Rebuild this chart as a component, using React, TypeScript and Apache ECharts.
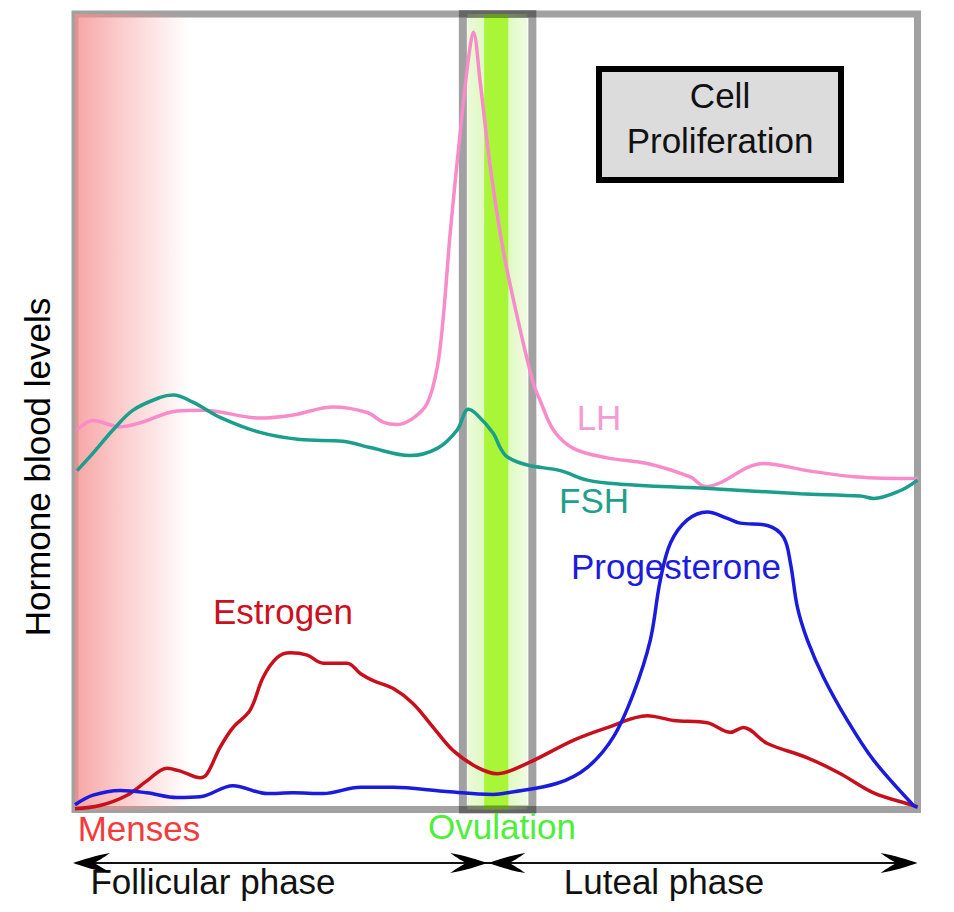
import React, { useEffect, useRef } from "react";
import * as echarts from "echarts";

// ---- data (x = day of cycle 0..28, y = relative hormone level 0..100) ----
const lhData: [number, number][] = [
  [0.07, 47.7], [0.6, 48.9], [1.5, 48.1], [2.16, 48.6], [3.39, 50.1], [4.26, 50.2],
  [6.15, 49.2], [7.25, 49.6], [8.58, 50.6], [9.71, 49.9], [10.24, 48.7], [10.71, 48.4],
  [11.24, 49.2], [11.71, 51.1], [12.04, 55.6], [12.24, 61.9], [12.47, 72.5], [12.8, 85.0],
  [13.07, 94.2], [13.24, 97.7], [13.47, 91.3], [13.8, 80.8], [14.23, 70.3], [14.7, 61.9],
  [15.23, 53.6], [15.46, 51.4], [15.9, 47.7], [16.56, 45.4], [17.69, 44.2], [19.02, 43.5],
  [20.45, 41.8], [20.95, 40.6], [22.88, 43.5], [24.34, 42.6], [26.01, 41.8], [28, 41.6],
];
const fshData: [number, number][] = [
  [0.07, 42.6], [0.6, 44.8], [1.26, 47.7], [1.93, 50.2], [2.83, 51.8], [3.26, 52.1],
  [3.92, 51.2], [4.82, 49.3], [6.15, 47.4], [7.48, 46.5], [8.91, 46.3], [9.81, 45.5],
  [11.14, 44.5], [12.04, 45.4], [12.7, 47.7], [13.07, 50.3], [13.37, 49.6], [13.9, 47.3],
  [14.13, 45.5], [14.37, 44.3], [15.03, 43.3], [16.13, 42.6], [17.03, 41.4], [18.12, 40.9],
  [20.79, 40.4], [24.11, 39.7], [26.11, 39.4], [26.54, 39.1], [27.44, 40.1], [28, 41.4],
];
const estrogenData: [number, number][] = [
  [0, 0.1], [0.83, 0.5], [1.73, 1.8], [2.39, 3.6], [3.06, 5.2], [3.59, 4.7], [4.16, 4.0],
  [4.39, 4.5], [4.82, 7.8], [5.25, 10.3], [5.82, 12.5], [6.25, 16.6], [6.72, 19.1],
  [7.15, 19.7], [7.72, 19.4], [8.25, 18.4], [9.05, 18.4], [9.48, 17.1], [9.91, 16.2],
  [10.58, 15.2], [11.24, 13.3], [11.91, 10.3], [12.57, 7.4], [13.37, 5.3], [14.03, 4.5],
  [15.03, 5.8], [16.56, 8.7], [17.69, 10.3], [19.02, 11.8], [19.89, 11.2], [21.02, 10.9],
  [21.78, 9.7], [22.21, 10.3], [23.01, 8.3], [24.34, 6.5], [25.44, 4.5], [26.54, 2.1],
  [27.87, 0.5], [28, 0.3],
];
const progesteroneData: [number, number][] = [
  [0, 0.6], [0.6, 1.8], [1.5, 2.4], [2.39, 2.1], [3.39, 1.5], [4.16, 1.6], [5.25, 3.0],
  [6.39, 2.0], [7.25, 2.1], [8.25, 2.0], [9.48, 2.8], [10.58, 2.8], [12.24, 2.3],
  [13.9, 1.9], [14.37, 2.1], [16.03, 3.3], [17.03, 5.3], [17.89, 9.1], [18.56, 14.6],
  [19.12, 21.3], [19.45, 28.8], [19.79, 33.5], [20.35, 36.4], [21.02, 37.4], [21.68, 36.6],
  [22.11, 36.0], [23.01, 35.7], [23.55, 34.2], [23.78, 30.9], [24.01, 25.4], [24.34, 21.3],
  [24.88, 16.6], [25.67, 11.2], [26.54, 6.2], [27.87, 0.5], [28, 0.3],
];

const seriesNames = ["LH", "FSH", "Estrogen", "Progesterone"];
const phaseLabels = ["Follicular phase", "Luteal phase"];
const eventLabels = ["Menses", "Ovulation"];
const yAxisTitle = "Hormone blood levels";
const boxLines = ["Cell", "Proliferation"];

// phase spans (days)
const mensesSpan = [0, 3.82];
const ovulationBoxSpan = [12.89, 15.2];
const ovulationGlowSpan = [13.04, 15.03];
const ovulationCoreSpan = [13.6, 14.4];
const cycleSpan = [0, 28];
const ovulationDay = 14;

const FONT = '"Liberation Sans", Arial, Helvetica, sans-serif';

echarts.graphic.registerShape(
  "arrowHead",
  echarts.graphic.extendPath(
    "M0,0 C-9,-3 -24,-8 -37,-10 C-30,-5 -25,-2 -21,0 C-25,2 -30,5 -37,10 C-24,8 -9,3 0,0 Z",
    {}
  ) as any
);

export default function App() {
  const ref = useRef<HTMLDivElement>(null);
  useEffect(() => {
    if (!ref.current) return;
    const chart = echarts.init(ref.current, undefined, { renderer: "svg" });

    const gLeft = 75, gTop = 14, gW = 842.5, gH = 795.5;
    const xPx = (d: number) => gLeft + (d / 28) * gW;
    const arrowY = 863;
    const text = (t: string, x: number, y: number, fill: string, extra: any = {}) => ({
      type: "text",
      x, y, z: 10,
      ...extra,
      style: {
        text: t, fill, fontSize: 35, fontFamily: FONT,
        align: "center", verticalAlign: "middle",
      },
    });

    const lineSeries = (name: string, data: [number, number][], color: string) => ({
      name, type: "line", data, showSymbol: false, smooth: 0.35, z: 3,
      lineStyle: { color, width: 3.5 }, itemStyle: { color },
    });

    chart.setOption({
      animation: false,
      grid: {
        left: gLeft, top: gTop, width: gW, height: gH, show: true,
        borderColor: "rgba(0,0,0,0.37)", borderWidth: 7, backgroundColor: "transparent",
      },
      xAxis: { type: "value", min: cycleSpan[0], max: cycleSpan[1], show: false },
      yAxis: { type: "value", min: 0, max: 100, show: false },
      series: [
        {
          type: "line", data: [], z: 1, silent: true,
          markArea: {
            silent: true,
            data: [
              [
                {
                  xAxis: mensesSpan[0],
                  itemStyle: {
                    color: new echarts.graphic.LinearGradient(0, 0, 1, 0, [
                      { offset: 0, color: "rgba(246,140,140,0.78)" },
                      { offset: 0.45, color: "rgba(246,140,140,0.4)" },
                      { offset: 1, color: "rgba(246,140,140,0)" },
                    ]),
                  },
                },
                { xAxis: mensesSpan[1] },
              ],
              [
                {
                  xAxis: ovulationGlowSpan[0],
                  itemStyle: {
                    color: new echarts.graphic.LinearGradient(0, 0, 1, 0, [
                      { offset: 0, color: "rgba(210,245,170,0.45)" },
                      { offset: 0.5, color: "rgba(200,245,150,0.8)" },
                      { offset: 1, color: "rgba(210,245,170,0.35)" },
                    ]),
                  },
                },
                { xAxis: ovulationGlowSpan[1] },
              ],
              [
                { xAxis: ovulationCoreSpan[0], itemStyle: { color: "#a8f637" } },
                { xAxis: ovulationCoreSpan[1] },
              ],
              [
                {
                  xAxis: ovulationBoxSpan[0],
                  itemStyle: { color: "transparent", borderColor: "rgba(0,0,0,0.37)", borderWidth: 8 },
                },
                { xAxis: ovulationBoxSpan[1] },
              ],
            ],
          },
        },
        lineSeries(seriesNames[0], lhData, "#f88bc9"),
        lineSeries(seriesNames[1], fshData, "#1b9e8b"),
        lineSeries(seriesNames[2], estrogenData, "#c80f1c"),
        lineSeries(seriesNames[3], progesteroneData, "#1b1bdd"),
      ],
      graphic: [
        text(yAxisTitle, 37, 467, "#000", { rotation: Math.PI / 2 }),
        {
          type: "rect", z: 9,
          shape: { x: 599, y: 69, width: 242, height: 111 },
          style: { fill: "#dcdcdc", stroke: "#000", lineWidth: 6 },
        },
        text(boxLines[0], 720, 95, "#111"),
        text(boxLines[1], 720, 140, "#111"),
        text(seriesNames[0], 599, 417, "#f59ad2"),
        text(seriesNames[1], 594, 500, "#1f9f8c"),
        text(seriesNames[2], 283, 611, "#cc1020"),
        text(seriesNames[3], 676, 566, "#1c1cde"),
        text(eventLabels[0], 139, 828, "#f23c3c"),
        text(eventLabels[1], 502, 826, "#4cef3a"),
        text(phaseLabels[0], 213, 881, "#111"),
        text(phaseLabels[1], 664, 881, "#111"),
        {
          type: "line", z: 9,
          shape: { x1: xPx(cycleSpan[0]) + 4, y1: arrowY, x2: xPx(cycleSpan[1]) - 4, y2: arrowY },
          style: { stroke: "#111", lineWidth: 2 },
        },
        { type: "arrowHead", z: 10, x: xPx(cycleSpan[0]) - 2, y: arrowY, scaleX: -1, style: { fill: "#000" } },
        { type: "arrowHead", z: 10, x: xPx(ovulationDay) - 9, y: arrowY, style: { fill: "#000" } },
        { type: "arrowHead", z: 10, x: xPx(ovulationDay) - 8, y: arrowY, scaleX: -1, style: { fill: "#000" } },
        { type: "arrowHead", z: 10, x: xPx(cycleSpan[1]), y: arrowY, style: { fill: "#000" } },
      ],
    });
    return () => chart.dispose();
  }, []);

  return (
    <div
      ref={ref}
      style={{ position: "fixed", left: 0, top: 0, width: 954, height: 912, background: "#fff" }}
    />
  );
}
